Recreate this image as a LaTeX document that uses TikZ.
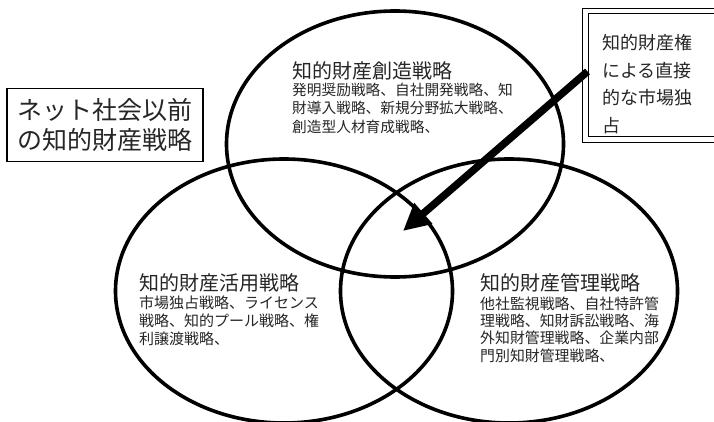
\documentclass[tikz,border=0pt]{standalone}
\usepackage{fontspec}
\newfontfamily\jp{Noto Sans CJK JP}
\usetikzlibrary{shapes.geometric,arrows.meta}
\begin{document}
\begin{tikzpicture}[x=1pt,y=-1pt,
  venn/.style={ellipse, draw, line width=3.6pt, minimum width=337pt, minimum height=264pt, inner sep=0pt},
  titletxt/.style={anchor=north west, inner sep=0pt, text=black!85, font=\jp\fontsize{20}{24}\selectfont},
  bodytxt/.style={anchor=north west, inner sep=0pt, align=left, text=black!85},
  bigarrow/.style={line width=7.5pt, -{Triangle[length=27pt,width=26pt]}}]
\useasboundingbox (0,0) rectangle (714,422);
\fill[white] (0,0) rectangle (714,422);
% circles
\node[venn, minimum height=266pt] (ctop) at (395,144) {};
\node[venn] (cleft) at (284,291) {};
\node[venn] (cright) at (509,291) {};
% texts in circles
\node[titletxt] (t1) at (292,61) {知的財産創造戦略};
\node[bodytxt, font=\jp\fontsize{14.7}{18.5}\selectfont] (b1) at (292,82.5)
  {発明奨励戦略、自社開発戦略、知\\財導入戦略、新規分野拡大戦略、\\創造型人材育成戦略、};
\node[titletxt] (t2) at (139,273) {知的財産活用戦略};
\node[bodytxt, font=\jp\fontsize{15}{18}\selectfont] (b2) at (139,295.5)
  {市場独占戦略、ライセンス\\戦略、知的プール戦略、権\\利譲渡戦略、};
\node[titletxt] (t3) at (480,273) {知的財産管理戦略};
\node[bodytxt, font=\jp\fontsize{14.9}{17.3}\selectfont] (b3) at (480,296.5)
  {他社監視戦略、自社特許管\\理戦略、知財訴訟戦略、海\\外知財管理戦略、企業内部\\門別知財管理戦略、};
% left box
\node[draw, line width=1.3pt, fill=white, minimum width=196pt, minimum height=73pt, inner sep=0pt,
  align=center, text=black!85, font=\jp\fontsize{25}{30}\selectfont] (lbox) at (105,125)
  {ネット社会以前\\の知的財産戦略};
% right double box
\node[draw, line width=1pt, fill=white, minimum width=152pt, minimum height=123pt, inner sep=0pt] (rbox) at (664,75.5) {};
\draw[line width=1.8pt] ([shift={(-5pt,5pt)}]rbox.north west) rectangle ([shift={(5pt,-5pt)}]rbox.south east);
\node[bodytxt, font=\jp\fontsize{18}{27.7}\selectfont] (rtext) at (602,34)
  {知的財産権\\による直接\\的な市場独\\占};
% arrow
\coordinate (tip) at (403,231);
\draw[bigarrow] ([yshift=4pt]rbox.west) -- (tip);
\end{tikzpicture}
\end{document}
